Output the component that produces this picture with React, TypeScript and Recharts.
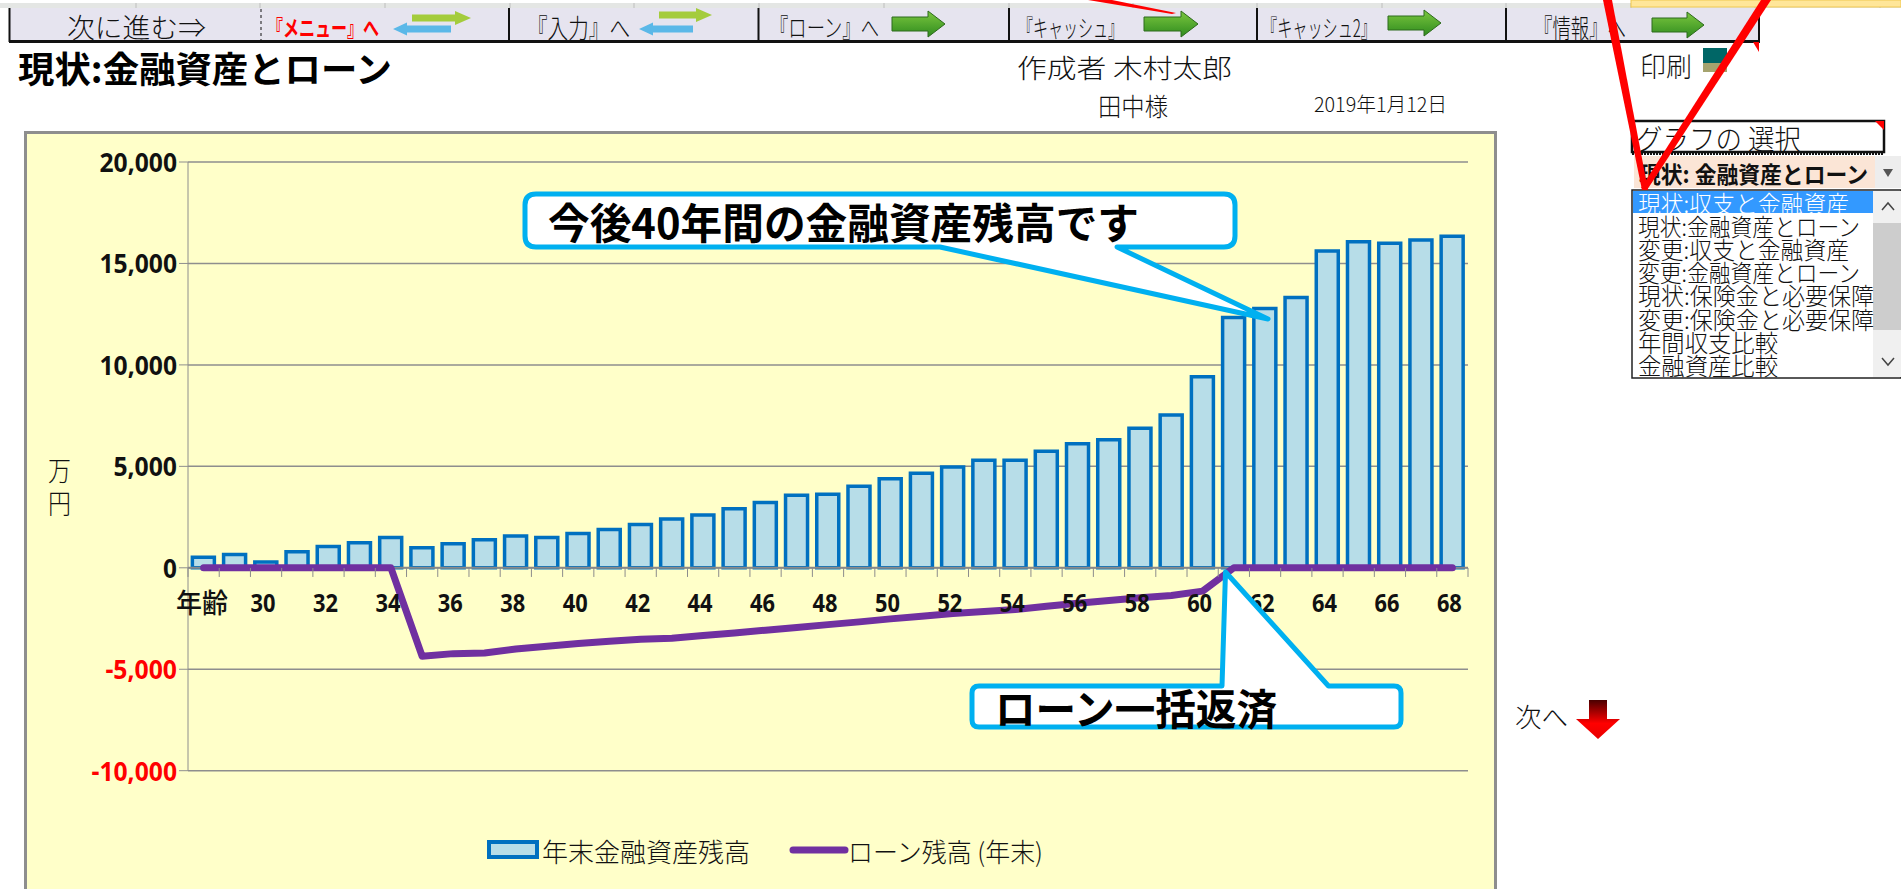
import React from "react";
import { ComposedChart, Bar, Line, XAxis, YAxis, CartesianGrid, ReferenceLine, Legend } from "recharts";

const ages = [28,29,30,31,32,33,34,35,36,37,38,39,40,41,42,43,44,45,46,47,48,49,50,51,52,53,54,55,56,57,58,59,60,61,62,63,64,65,66,67,68];
const assetBalance = [526,658,280,790,1053,1234,1497,987,1184,1382,1563,1497,1694,1892,2138,2400,2600,2912,3224,3570,3620,4014,4392,4655,4968,5297,5297,5741,6120,6317,6876,7534,9410,12340,12780,13325,15610,16070,16000,16150,16335];
const loanBalance = [0,0,0,0,0,0,0,-4360,-4230,-4195,-4000,-3865,-3735,-3620,-3520,-3470,-3340,-3210,-3075,-2945,-2800,-2665,-2517,-2385,-2254,-2155,-2056,-1892,-1744,-1612,-1480,-1365,-1150,0,0,0,0,0,0,0,0];
const yTicks = [-10000,-5000,0,5000,10000,15000,20000];
const seriesNames = ["年末金融資産残高", "ローン残高 (年末)"];
const graphChoices = ["現状:収支と金融資産","現状:金融資産とローン","変更:収支と金融資産","変更:金融資産とローン","現状:保険金と必要保障","変更:保険金と必要保障","年間収支比較","金融資産比較"];
const choiceTextWidths = [211, 222, 211, 222, 236, 236, 140, 140];

const chartData = ages.map((age, i) => ({
  age,
  label: i === 0 ? "年齢" : age % 2 === 0 ? String(age) : "",
  asset: assetBalance[i],
  loan: loanBalance[i],
}));

const SANS = "'Noto Sans CJK JP','Noto Sans',sans-serif";
const NUM = "'Noto Sans','Liberation Sans',sans-serif";
const PLOT_H = 608.2;
const ZERO_OFFSET = (PLOT_H * 10000) / 30000;
const STEP = 1280 / ages.length;

function T({ x, y, w, size = 22, bold = false, fill = "#111", family = SANS, children }: any) {
  return (
    <text x={x} y={y} fontSize={size} fontWeight={bold ? 700 : 300} fill={fill} fontFamily={family}
      dominantBaseline="central" textLength={w} lengthAdjust="spacingAndGlyphs">{children}</text>
  );
}

function XTick({ x, y, payload, index }: any) {
  const zeroY = y - ZERO_OFFSET;
  const left = x - STEP / 2;
  const isLast = index === ages.length - 1;
  const lab = chartData[index]?.label ?? payload.value;
  return (
    <g>
      <line x1={left} x2={left} y1={zeroY} y2={zeroY + 9} stroke="#8c8c8c" strokeWidth={1} />
      {isLast && <line x1={left + STEP} x2={left + STEP} y1={zeroY} y2={zeroY + 9} stroke="#8c8c8c" strokeWidth={1} />}
      {lab && (
        <text x={lab === "年齢" ? x - 1.5 : x - 3} y={zeroY + 34} textAnchor="middle" dominantBaseline="central" fontSize={lab === "年齢" ? 27 : 25}
          fontWeight={lab === "年齢" ? 500 : 700} fontFamily={lab === "年齢" ? SANS : NUM} fill="#111"
          textLength={lab === "年齢" ? 52 : 25} lengthAdjust="spacingAndGlyphs">{lab}</text>
      )}
    </g>
  );
}

const yTickWidth = (n: number) => 8 + 13.9 * String(Math.abs(n)).length + (n < 0 ? 8 : 0) - (Math.abs(n) >= 1000 ? 0 : 8);

function YTick({ y, payload }: any) {
  const v = payload.value as number;
  const text = v.toLocaleString("en-US");
  return (
    <text x={153} y={y} textAnchor="end" dominantBaseline="central" fontFamily={NUM} fontSize={26} fontWeight={700}
      fill={v < 0 ? "#FF0000" : "#111"} textLength={yTickWidth(v)} lengthAdjust="spacingAndGlyphs">{text}</text>
  );
}

function LegendContent({ payload }: any) {
  const items = payload || [];
  return (
    <svg width={600} height={46} style={{ display: "block" }}>
      {items.map((it: any) =>
        it.dataKey === "asset" ? (
          <g key="a">
            <rect x={7} y={15} width={48} height={15} fill="#B7DDE8" stroke="#0070C0" strokeWidth={4} />
            <T x={60} y={23} w={208} size={26}>{it.value}</T>
          </g>
        ) : (
          <g key="l">
            <line x1={311} x2={363} y1={23} y2={23} stroke="#7030A0" strokeWidth={7} strokeLinecap="round" />
            <T x={366} y={23} w={195} size={26}>{it.value}</T>
          </g>
        )
      )}
    </svg>
  );
}

const arrowPts = (x1: number, x2: number, cy: number, h: number, head: number, sh: number) =>
  x2 > x1
    ? `${x1},${cy - sh} ${x2 - head},${cy - sh} ${x2 - head},${cy - h} ${x2},${cy} ${x2 - head},${cy + h} ${x2 - head},${cy + sh} ${x1},${cy + sh}`
    : `${x1},${cy - sh} ${x2 + head},${cy - sh} ${x2 + head},${cy - h} ${x2},${cy} ${x2 + head},${cy + h} ${x2 + head},${cy + sh} ${x1},${cy + sh}`;

function GreenArrow({ x1, x2, cy }: any) {
  return <polygon points={arrowPts(x1, x2, cy, 13, 17, 7)} fill="url(#greenG)" stroke="#2d6a1c" strokeWidth={1} />;
}
function FlatPair({ gx1, gx2, gy, bx1, bx2, by }: any) {
  return (
    <g>
      <polygon points={arrowPts(gx1, gx2, gy, 7, 16, 3.5)} fill="#A4CC3C" />
      <polygon points={arrowPts(bx1, bx2, by, 6.5, 14, 3.5)} fill="#5BB8E8" />
    </g>
  );
}

const columnLines = [136, 260, 385, 510, 634, 759, 884, 1009, 1133, 1257, 1382, 1506, 1631, 1755, 1880];

function Overlay() {
  return (
    <svg width={1901} height={889} style={{ position: "absolute", left: 0, top: 0, pointerEvents: "none" }}>
      <defs>
        <linearGradient id="greenG" x1="0" y1="0" x2="0" y2="1">
          <stop offset="0" stopColor="#7CC73F" />
          <stop offset="1" stopColor="#2E8B1E" />
        </linearGradient>
        <linearGradient id="redG" x1="0" y1="0" x2="0" y2="1">
          <stop offset="0" stopColor="#4A0000" />
          <stop offset="0.6" stopColor="#FF0000" />
          <stop offset="1" stopColor="#E80000" />
        </linearGradient>
      </defs>
      <rect x={0} y={3} width={1901} height={5} fill="#E4E6E4" />
      {columnLines.map((c) => <line key={c} x1={c} x2={c} y1={3} y2={8} stroke="#BEBEBE" />)}
      <rect x={1631} y={0} width={270} height={7} fill="#FFE699" stroke="#F0C850" />
      <rect x={9} y={8} width={1750} height={33} fill="#E6E4EF" />
      <line x1={9} x2={1760} y1={41.5} y2={41.5} stroke="#111" strokeWidth={3} />
      <line x1={9.5} x2={9.5} y1={8} y2={42} stroke="#111" strokeWidth={2} />
      <line x1={1759} x2={1759} y1={8} y2={42} stroke="#111" strokeWidth={2} />
      {[509, 758.5, 1009, 1257, 1506].map((c) => <line key={c} x1={c} x2={c} y1={8} y2={42} stroke="#111" strokeWidth={2} />)}
      <line x1={261} x2={261} y1={9} y2={40} stroke="#111" strokeWidth={1} strokeDasharray="3 3" />
      <T x={67} y={26} w={139} size={27}>次に進む⇒</T>
      <T x={267} y={26} w={112} size={22} bold fill="#FF0000">『メニュー』へ</T>
      <FlatPair gx1={412} gx2={471} gy={18} bx1={451} bx2={393} by={29} />
      <T x={527} y={26} w={103} size={26}>『入力』へ</T>
      <FlatPair gx1={659} gx2={712} gy={15} bx1={693} bx2={639} by={29} />
      <T x={770} y={26} w={109} size={25}>『ローン』へ</T>
      <GreenArrow x1={892} x2={945} cy={24} />
      <T x={1018} y={26} w={105} size={24}>『キャッシュ』</T>
      <GreenArrow x1={1144} x2={1198} cy={24} />
      <T x={1262} y={26} w={114} size={24}>『キャッシュ2』</T>
      <GreenArrow x1={1388} x2={1441} cy={23} />
      <T x={1534} y={26} w={92} size={26}>『情報』へ</T>
      <GreenArrow x1={1652} x2={1704} cy={25} />

      <T x={18} y={67} w={374} size={36} bold fill="#000">現状:金融資産とローン</T>
      <T x={1017} y={66} w={215} size={26}>作成者 木村太郎</T>
      <T x={1098} y={105} w={70} size={25}>田中様</T>
      <T x={1314} y={103} w={133} size={20}>2019年1月12日</T>
      <T x={1640} y={65} w={52} size={27}>印刷</T>
      <rect x={1703} y={48} width={24} height={15} fill="#006666" />
      <rect x={1703} y={63} width={24} height={9} fill="#A5A36E" />

      <T x={48} y={469} w={23} size={27}>万</T>
      <T x={48} y={502} w={23} size={27}>円</T>

      <path d="M536,194 H1224 Q1235,194 1235,205 V236 Q1235,247 1224,247 H1117 L1268,319 L940,247 H536 Q525,247 525,236 V205 Q525,194 536,194 Z"
        fill="#fff" stroke="#00B0F0" strokeWidth={5} strokeLinejoin="round" />
      <T x={548} y={220} w={591} size={42} bold fill="#000">今後40年間の金融資産残高です</T>
      <path d="M979,686 H1222 L1225.5,572 L1328.5,686 H1394 Q1401,686 1401,693 V720 Q1401,727 1394,727 H979 Q972,727 972,720 V693 Q972,686 979,686 Z"
        fill="#fff" stroke="#00B0F0" strokeWidth={5} strokeLinejoin="round" />
      <T x={995} y={706} w={282} size={42} bold fill="#000">ローン一括返済</T>

      <T x={1515} y={715} w={53} size={26}>次へ</T>
      <polygon points="1589,700 1607,700 1607,719 1620,719 1598,739 1576,719 1589,719" fill="url(#redG)" />

      <rect x={1632} y={121} width={252} height={31} fill="#fff" stroke="#111" strokeWidth={2.5} />
      <polygon points="1875,121 1884,121 1884,130" fill="#FF0000" />
      <T x={1636} y={138} w={165} size={28}>グラフの 選択</T>
      <line x1={1632} x2={1884} y1={154} y2={154} stroke="#111" strokeWidth={2} strokeDasharray="2 1" />
      <rect x={1634} y={156} width={241} height={32} fill="#FBE5D6" />
      <rect x={1875} y={156} width={26} height={32} fill="#EDEDED" />
      <polygon points="1883,169 1893,169 1888,177" fill="#555" />
      <T x={1639} y={173} w={229} size={23} bold>現状: 金融資産とローン</T>
      <rect x={1632} y={190} width={269} height={188} fill="#fff" stroke="#222" strokeWidth={1.5} />
      <rect x={1633} y={191} width={240} height={22} fill="#3399FF" />
      <rect x={1873} y={191} width={28} height={186} fill="#F0F0F0" />
      <rect x={1873} y={223} width={28} height={107} fill="#CDCDCD" />
      <polyline points="1882,210 1888,203 1894,210" fill="none" stroke="#444" strokeWidth={1.5} />
      <polyline points="1882,358 1888,365 1894,358" fill="none" stroke="#444" strokeWidth={1.5} />
      {graphChoices.map((g, i) => (
        <T key={g} x={1638} y={202 + i * 23.2} w={choiceTextWidths[i]} size={24} fill={i === 0 ? "#fff" : "#111"}>{g}</T>
      ))}

      <polygon points="1603,0 1612,0 1648,190 1642,190" fill="#FF0000" />
      <polygon points="1761,0 1771,0 1647,190 1641,188" fill="#FF0000" />
      <polygon points="1088,0 1112,0 1176,13 1172,14" fill="#FF0000" />
      <polygon points="1753,42 1759,42 1759,52" fill="#FF0000" />
    </svg>
  );
}

export default function App() {
  return (
    <div style={{ position: "absolute", left: 0, top: 0, width: 1901, height: 889, overflow: "hidden", background: "#fff" }}>
      <div style={{ position: "absolute", left: 24, top: 131, width: 1473, height: 758, background: "#FFFFC9", borderLeft: "3px solid #8E8E8E", borderTop: "3px solid #8E8E8E", borderRight: "3px solid #8E8E8E", boxSizing: "border-box" }} />
      <div style={{ position: "absolute", left: 24, top: 131 }}>
        <ComposedChart width={1473} height={758} data={chartData} margin={{ top: 31, right: 29, bottom: 117.3, left: 0 }} barCategoryGap="14%">
          <CartesianGrid vertical={false} stroke="#8E8E8E" strokeWidth={1.5} />
          <XAxis dataKey="age" interval={0} height={1} tickSize={0} tickMargin={0} axisLine={false} tickLine={false} tick={<XTick />} />
          <YAxis width={164} domain={[-10000, 20000]} ticks={yTicks} interval={0} allowDataOverflow tick={<YTick />} tickSize={9} axisLine={{ stroke: "#8E8E8E" }} tickLine={{ stroke: "#8E8E8E" }} />
          <Bar dataKey="asset" name={seriesNames[0]} fill="#B7DDE8" stroke="#0070C0" strokeWidth={3.5} isAnimationActive={false} />
          <ReferenceLine y={0} stroke="#8A8A8A" strokeWidth={2} />
          <Line dataKey="loan" name={seriesNames[1]} type="linear" stroke="#7030A0" strokeWidth={7} strokeLinecap="round" strokeLinejoin="round" dot={false} activeDot={false} isAnimationActive={false} />
          <Legend layout="horizontal" verticalAlign="middle" itemSorter={null as any} content={<LegendContent />}
            wrapperStyle={{ left: 458, top: 696, width: 600, height: 46, margin: 0 }} />
        </ComposedChart>
      </div>
      <Overlay />
    </div>
  );
}
